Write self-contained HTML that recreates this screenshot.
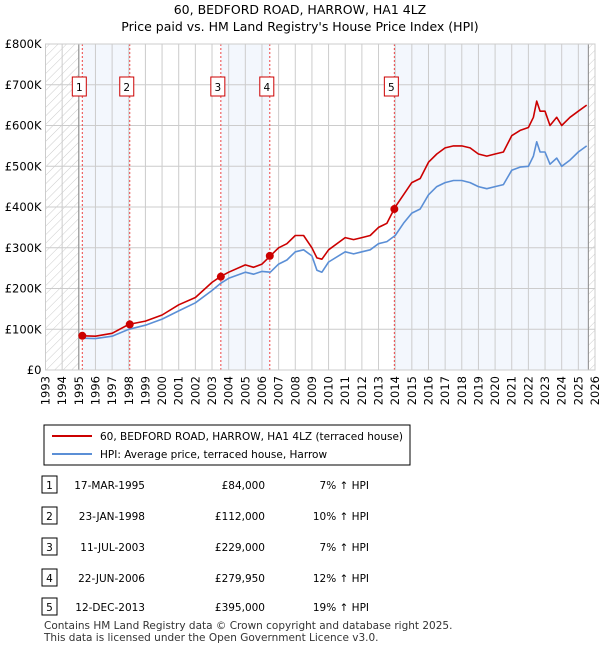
<!DOCTYPE html>
<html><head><meta charset="utf-8"><style>
body{margin:0;background:#fff;font-family:"Liberation Sans","DejaVu Sans",sans-serif;}
svg text{font-family:"DejaVu Sans","Liberation Sans",sans-serif;}
</style></head><body>
<svg width="600" height="650" id="c">
<defs><pattern id="h" width="6" height="6" patternUnits="userSpaceOnUse" patternTransform="rotate(45)"><line x1="0" y1="0" x2="0" y2="6" stroke="#ccc" stroke-width="1"/></pattern></defs>
<text x="300" y="14" text-anchor="middle" font-size="12.5">60, BEDFORD ROAD, HARROW, HA1 4LZ</text>
<text x="300" y="31" text-anchor="middle" font-size="12.5">Price paid vs. HM Land Registry's House Price Index (HPI)</text>
<g id="plot"></g>
<g>
<rect x="44" y="425" width="366" height="40" fill="#fff" stroke="#000"/>
<line x1="52" y1="436" x2="92" y2="436" stroke="#c00" stroke-width="2"/>
<text x="100" y="440" font-size="10.5">60, BEDFORD ROAD, HARROW, HA1 4LZ (terraced house)</text>
<line x1="52" y1="454" x2="92" y2="454" stroke="#5b8fd6" stroke-width="2"/>
<text x="100" y="458" font-size="10.5">HPI: Average price, terraced house, Harrow</text>
</g>
<g id="tbl" font-size="10.5"></g>
<text x="44" y="629" font-size="10.5" fill="#333">Contains HM Land Registry data © Crown copyright and database right 2025.</text>
<text x="44" y="641" font-size="10.5" fill="#333">This data is licensed under the Open Government Licence v3.0.</text>
</svg>
<script>
const hpiYears=[1995.2,1996,1997,1998,1999,2000,2001,2002,2003,2003.5,2004,2005,2005.5,2006,2006.5,2007,2007.5,2008,2008.5,2009,2009.3,2009.6,2010,2011,2011.5,2012,2012.5,2013,2013.5,2014,2014.5,2015,2015.5,2016,2016.5,2017,2017.5,2018,2018.5,2019,2019.5,2020,2020.5,2021,2021.5,2022,2022.3,2022.5,2022.7,2023,2023.3,2023.7,2024,2024.5,2025,2025.5];
const hpiValues=[78,77,83,100,110,125,145,165,195,212,225,240,235,242,240,260,270,290,295,280,245,240,265,290,285,290,295,310,315,330,360,385,395,430,450,460,465,465,460,450,445,450,455,490,498,500,525,560,535,535,505,520,500,515,535,550];
const priceValues=[84,83,90,112,120,135,160,178,215,229,240,258,252,260,280,300,310,330,330,300,275,272,295,325,320,325,330,350,360,400,430,460,470,510,530,545,550,550,545,530,525,530,535,575,588,595,620,660,635,635,600,620,600,620,635,650];
const saleYears=[1995.21,1998.06,2003.53,2006.47,2013.95];
const salePrices=[84,112,229,279.95,395];
const saleDates=["17-MAR-1995","23-JAN-1998","11-JUL-2003","22-JUN-2006","12-DEC-2013"];
const salePriceLabels=["£84,000","£112,000","£229,000","£279,950","£395,000"];
const saleHpi=["7% ↑ HPI","10% ↑ HPI","7% ↑ HPI","12% ↑ HPI","19% ↑ HPI"];
const yTicks=[0,100,200,300,400,500,600,700,800];
const yLabels=["£0","£100K","£200K","£300K","£400K","£500K","£600K","£700K","£800K"];
const xTicks=[];for(let y=1993;y<=2026;y++)xTicks.push(y);

const X0=45.5,X1=595,Y0=370,Y1=44;
const x=v=>X0+(v-1993)*(X1-X0)/33;
const y=v=>Y0-(v/800)*(Y0-Y1);
const NS="http://www.w3.org/2000/svg";
const plot=document.getElementById('plot');
function mk(t,a,p){const e=document.createElementNS(NS,t);for(const k in a)e.setAttribute(k,a[k]);(p||plot).appendChild(e);return e;}
const bands=[[0,1],[2,3],[4,null]];
bands.forEach(b=>{const xa=x(saleYears[b[0]]),xb=b[1]===null?x(2025.6):x(saleYears[b[1]]);
const r=mk('rect',{x:xa,y:Y1,width:xb-xa,height:Y0-Y1,fill:'#eef3fc',opacity:0.7});

});
const h1=mk('rect',{x:X0,y:Y1,width:x(1995)-X0,height:Y0-Y1,fill:'url(#h)'});


const h2=mk('rect',{x:x(2025.6),y:Y1,width:X1-x(2025.6),height:Y0-Y1,fill:'url(#h)'});


xTicks.forEach(t=>{const l=mk('line',{x1:x(t),x2:x(t),y1:Y1,y2:Y0,stroke:'#ccc'});


const tx=mk('text',{x:0,y:0,'font-size':11.5,'text-anchor':'end',transform:`translate(${x(t)+4},${Y0+6}) rotate(-90)`});tx.textContent=t;

});
yTicks.forEach((t,i)=>{const l=mk('line',{x1:X0,x2:X1,y1:y(t),y2:y(t),stroke:'#ccc'});


const tx=mk('text',{x:X0-4,y:y(t)+4,'font-size':11.5,'text-anchor':'end'});tx.textContent=yLabels[i];

});
mk('line',{x1:x(1995),x2:x(1995),y1:Y1,y2:Y0,stroke:'#888'});
mk('line',{x1:x(2025.6),x2:x(2025.6),y1:Y1,y2:Y0,stroke:'#888'});
saleYears.forEach((s,i)=>{const l=mk('line',{x1:x(s),x2:x(s),y1:Y1,y2:Y0,stroke:'#e44','stroke-dasharray':'2,2','stroke-width':1});


const bx=mk('rect',{x:x(s)-10,y:77,width:14,height:19,fill:'#fff',stroke:'#c00'});


const t=mk('text',{x:x(s)-3,y:91,'font-size':10.5,'text-anchor':'middle'});t.textContent=i+1;

});
function line(vals,col,name){const d=hpiYears.map((yy,i)=>(i?'L':'M')+x(yy).toFixed(1)+','+y(vals[i]).toFixed(1)).join('');
const p=mk('path',{d:d,fill:'none',stroke:col,'stroke-width':1.6,'stroke-linejoin':'round'});

}
line(hpiValues,'#5b8fd6','hpi-line');
line(priceValues,'#c00','price-paid-line');
saleYears.forEach((s,i)=>{const c=mk('circle',{cx:x(s),cy:y(salePrices[i]),r:4,fill:'#c00'});

});
mk('rect',{x:X0,y:Y1,width:X1-X0,height:Y0-Y1,fill:'none',stroke:'#ccc'});
const tbl=document.getElementById('tbl');
const rowsY=[485,516,547,578,607];
rowsY.forEach((ry,i)=>{const b=mk('rect',{x:42,y:ry-9,width:15,height:17,fill:'#fff',stroke:'#000'},tbl);


const n=mk('text',{x:49.5,y:ry+4,'text-anchor':'middle'},tbl);n.textContent=i+1;


const d=mk('text',{x:145,y:ry+4,'text-anchor':'end'},tbl);d.textContent=saleDates[i];


const p=mk('text',{x:265,y:ry+4,'text-anchor':'end'},tbl);p.textContent=salePriceLabels[i];


const hh=mk('text',{x:369,y:ry+4,'text-anchor':'end'},tbl);hh.textContent=saleHpi[i];

});
</script>
</body></html>
